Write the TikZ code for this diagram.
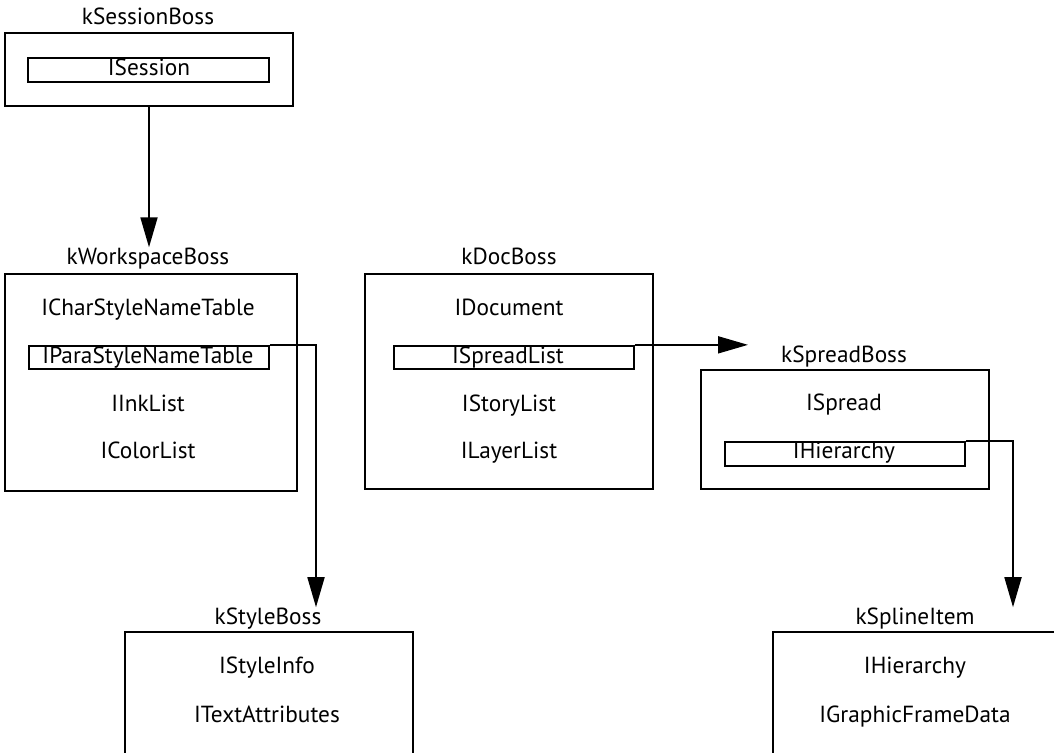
\documentclass[tikz,border=0pt]{standalone}
\usepackage{fontspec}
\setmainfont{PT Sans}
\usetikzlibrary{arrows.meta,calc}
\begin{document}
\begin{tikzpicture}[x=1pt,y=-1pt,
  txt/.style={inner sep=0pt,anchor=base,font=\fontsize{23.3}{27}\selectfont},
  bossbox/.style={draw,line width=1.8pt,inner sep=0pt,minimum width=#1},
  ifacebox/.style={draw,line width=1.8pt,inner sep=0pt,minimum width=240pt,minimum height=23.5pt},
  link/.style={line width=1.8pt,-{Triangle[length=30pt,width=17pt]}}]
\useasboundingbox (0,0) rectangle (1054,752);
\clip (0,0) rectangle (1054,752);

% session boss
\node[txt] (sessiontitle) at (148,25) {kSessionBoss};
\node[bossbox=288pt,minimum height=73pt] (sessionbox) at (149,69.5) {};
\node[ifacebox,minimum width=241pt,minimum height=24pt] (isession) at (148.5,70) {};
\node[txt] (isessiontxt) at (149,75) {ISession};

% workspace boss
\node[txt] (wstitle) at (148,264) {kWorkspaceBoss};
\node[bossbox=292pt,minimum height=217pt] (wsbox) at (151,382.5) {};
\node[txt] (charstyle) at (148,315) {ICharStyleNameTable};
\node[ifacebox] (para) at (149,357.5) {};
\node[txt] (paratxt) at (148,363) {IParaStyleNameTable};
\node[txt] (inklist) at (148,411) {IInkList};
\node[txt] (colorlist) at (148,458) {IColorList};

% document boss
\node[txt] (doctitle) at (509,264) {kDocBoss};
\node[bossbox=288pt,minimum height=215pt] (docbox) at (509,381.5) {};
\node[txt] (idocument) at (509,315) {IDocument};
\node[ifacebox] (spreadlist) at (514,357.5) {};
\node[txt] (spreadlisttxt) at (508,363) {ISpreadList};
\node[txt] (storylist) at (509,411) {IStoryList};
\node[txt] (layerlist) at (509,458) {ILayerList};

% spread boss
\node[txt] (spreadtitle) at (844,362) {kSpreadBoss};
\node[bossbox=288pt,minimum height=119pt] (spreadbox) at (845,429.5) {};
\node[txt] (ispread) at (844,410) {ISpread};
\node[ifacebox,minimum height=24pt] (hier) at (845,454) {};
\node[txt] (hiertxt) at (844,458) {IHierarchy};

% style boss
\node[txt] (styletitle) at (268,624) {kStyleBoss};
\node[bossbox=288pt,minimum height=168pt] (stylebox) at (269,716) {};
\node[txt] (styleinfo) at (267,673) {IStyleInfo};
\node[txt] (textattr) at (267,722) {ITextAttributes};

% spline item
\node[txt] (splinetitle) at (915,624) {kSplineItem};
\node[bossbox=288pt,minimum height=168pt] (splinebox) at (917,716) {};
\node[txt] (splinehier) at (915,673) {IHierarchy};
\node[txt] (framedata) at (915,722) {IGraphicFrameData};

% connectors
\coordinate (spreadin) at (748,346);
\draw[link] (sessionbox.south) -- (sessionbox.south |- wstitle.north);
\draw[link] (para.north east) -| ($(styletitle.north)+(48,0)$);
\draw[link] (spreadlist.north east) -- (spreadlist.north east -| spreadin);
\draw[link] (hier.north east) -| ($(splinetitle.north)+(98,0)$);
\end{tikzpicture}
\end{document}
